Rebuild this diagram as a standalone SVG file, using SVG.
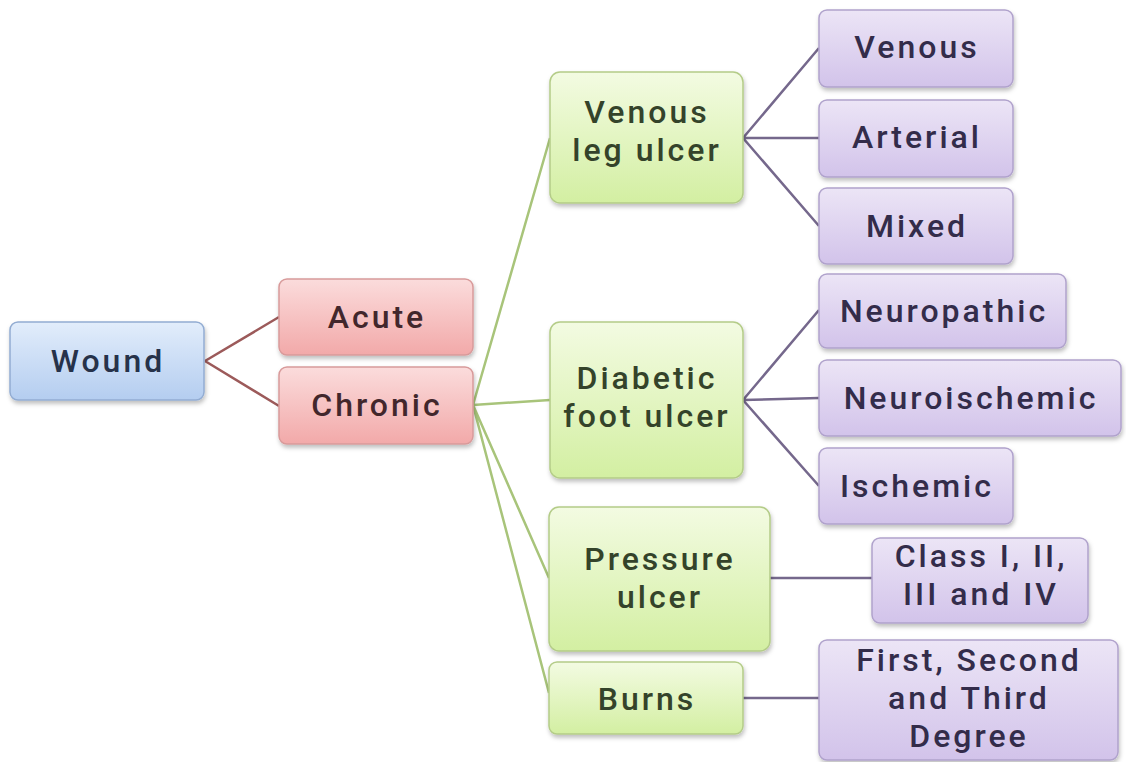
<svg xmlns="http://www.w3.org/2000/svg" width="1126" height="762" viewBox="0 0 1126 762">
<defs>
<linearGradient id="gBlue" x1="0" y1="0" x2="0" y2="1"><stop offset="0" stop-color="#e2edfb"/><stop offset="1" stop-color="#b4cdf0"/></linearGradient>
<linearGradient id="gRed" x1="0" y1="0" x2="0" y2="1"><stop offset="0" stop-color="#fbdcdc"/><stop offset="1" stop-color="#f2a9a9"/></linearGradient>
<linearGradient id="gGreen" x1="0" y1="0" x2="0" y2="1"><stop offset="0" stop-color="#f3fbe2"/><stop offset="1" stop-color="#d3efa2"/></linearGradient>
<linearGradient id="gPurple" x1="0" y1="0" x2="0" y2="1"><stop offset="0" stop-color="#ece5f6"/><stop offset="1" stop-color="#d2c3ea"/></linearGradient>
<filter id="sh" x="-10%" y="-10%" width="130%" height="140%"><feDropShadow dx="1" dy="3" stdDeviation="2" flood-color="#000" flood-opacity="0.25"/></filter>
</defs>
<style>
.box{stroke-width:1.5;filter:url(#sh)}
.blue{fill:url(#gBlue);stroke:#92acd2}
.red{fill:url(#gRed);stroke:#d89a9a}
.green{fill:url(#gGreen);stroke:#b4cc88}
.purple{fill:url(#gPurple);stroke:#b0a2cc}
text{font-family:Roboto,"Open Sans",sans-serif;font-size:32px;font-weight:500;letter-spacing:3px;fill:#2b2b38;text-anchor:middle}
.tb{fill:#26324a}
.tr{fill:#42272c}
.tg{fill:#34432a}
.tp{fill:#332c4a}
.c1{stroke:#9c5a5a;stroke-width:2.5;fill:none}
.c2{stroke:#a8c47a;stroke-width:2.5;fill:none}
.c3{stroke:#75688c;stroke-width:2.5;fill:none}
</style>
<rect width="1126" height="762" fill="#ffffff"/>
<g id="connectors">
<path class="c1" d="M205,361 L279,317 M205,361 L279,406"/>
<path class="c2" d="M473,405 L550,138 M473,405 L550,400 M473,405 L549,578 M473,405 L549,693"/>
<path class="c3" d="M743,138 L819,48 M743,138 L819,138 M743,138 L819,226"/>
<path class="c3" d="M743,400 L819,310 M743,400 L819,398 M743,400 L819,486"/>
<path class="c3" d="M770,578 L872,578"/>
<path class="c3" d="M743,698 L819,698"/>
</g>
<g id="wound"><rect class="box blue" x="10" y="322" width="194" height="78" rx="8"/><text class="tb" x="108" y="372">Wound</text></g>
<g id="acute"><rect class="box red" x="279" y="279" width="194" height="76" rx="8"/><text class="tr" x="377" y="328">Acute</text></g>
<g id="chronic"><rect class="box red" x="279" y="367" width="194" height="77" rx="8"/><text class="tr" x="377" y="416">Chronic</text></g>
<g id="venous-leg-ulcer"><rect class="box green" x="550" y="72" width="193" height="131" rx="10"/><text class="tg" x="647" y="123">Venous</text><text class="tg" x="647" y="161">leg ulcer</text></g>
<g id="diabetic-foot-ulcer"><rect class="box green" x="550" y="322" width="193" height="156" rx="10"/><text class="tg" x="647" y="389">Diabetic</text><text class="tg" x="647" y="427">foot ulcer</text></g>
<g id="pressure-ulcer"><rect class="box green" x="549" y="507" width="221" height="144" rx="10"/><text class="tg" x="660" y="570">Pressure</text><text class="tg" x="660" y="608">ulcer</text></g>
<g id="burns"><rect class="box green" x="549" y="662" width="194" height="72" rx="8"/><text class="tg" x="647" y="710">Burns</text></g>
<g id="venous"><rect class="box purple" x="819" y="10" width="194" height="77" rx="8"/><text class="tp" x="917" y="58">Venous</text></g>
<g id="arterial"><rect class="box purple" x="819" y="100" width="194" height="77" rx="8"/><text class="tp" x="917" y="148">Arterial</text></g>
<g id="mixed"><rect class="box purple" x="819" y="188" width="194" height="76" rx="8"/><text class="tp" x="917" y="237">Mixed</text></g>
<g id="neuropathic"><rect class="box purple" x="819" y="274" width="247" height="74" rx="8"/><text class="tp" x="944" y="322">Neuropathic</text></g>
<g id="neuroischemic"><rect class="box purple" x="819" y="360" width="302" height="76" rx="8"/><text class="tp" x="971" y="409">Neuroischemic</text></g>
<g id="ischemic"><rect class="box purple" x="819" y="448" width="194" height="76" rx="8"/><text class="tp" x="917" y="497">Ischemic</text></g>
<g id="class"><rect class="box purple" x="872" y="538" width="216" height="85" rx="8"/><text class="tp" x="981" y="567">Class I, II,</text><text class="tp" x="981" y="605">III and IV</text></g>
<g id="degree"><rect class="box purple" x="819" y="640" width="299" height="120" rx="8"/><text class="tp" x="969" y="671">First, Second</text><text class="tp" x="969" y="709">and Third</text><text class="tp" x="969" y="747">Degree</text></g>
</svg>
